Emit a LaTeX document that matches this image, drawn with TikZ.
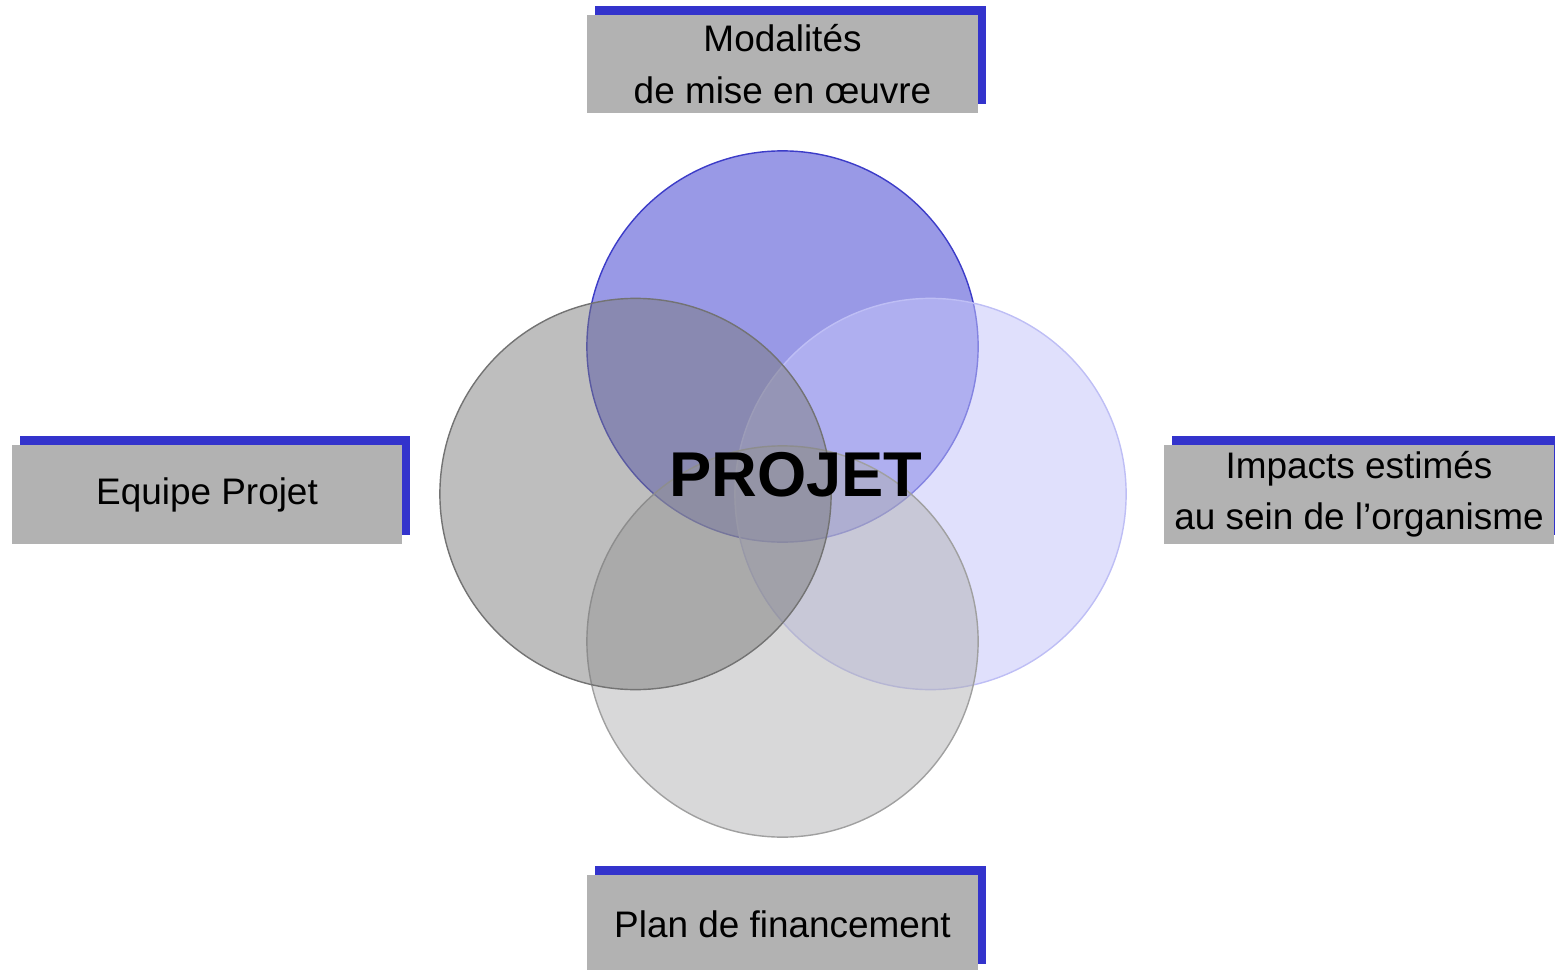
\documentclass[tikz,border=0pt]{standalone}
\usepackage{fontspec}
\setmainfont{Liberation Sans}
\usetikzlibrary{shadows}
\definecolor{boxgray}{RGB}{178,178,178}
\definecolor{shadowblue}{RGB}{51,51,204}
\definecolor{modfill}{RGB}{153,153,230}
\definecolor{impfill}{RGB}{196,196,249}
\definecolor{planfill}{RGB}{174,174,176}
\definecolor{eqfill}{RGB}{122,122,122}
\tikzset{
  pole/.style={fill=boxgray, minimum width=3.9cm, minimum height=0.98cm,
    inner sep=0pt, align=center, font=\fontsize{10.5pt}{14.6pt}\selectfont,
    general shadow={fill=shadowblue, shadow xshift=0.08cm, shadow yshift=0.09cm}},
  rond/.style={circle, minimum size=3.91cm, inner sep=0pt, line width=0.4pt}
}
\begin{document}
\begin{tikzpicture}[x=0.01cm, y=-0.01cm]
      \useasboundingbox (0,0) rectangle (1555,970);
      \node (c1) [rond, fill=modfill, draw={rgb,255:red,60;green,60;blue,200}] at (782.5,346.5) {};
      \node (c2) [rond, fill=impfill, fill opacity=0.53, draw={rgb,255:red,190;green,190;blue,245}] at (930.5,494) {};
      \node (c3) [rond, fill=planfill, fill opacity=0.48, draw={rgb,255:red,160;green,160;blue,160}] at (782.5,641.5) {};
      \node (c4) [rond, fill=eqfill, fill opacity=0.49, draw={rgb,255:red,115;green,115;blue,115}] at (635.5,494) {};
      \node (projet) at (796,475) {\fontsize{18pt}{20pt}\selectfont\bfseries PROJET};
      \node (mod) [pole] at (782.5,64) {Modalités\\de mise en œuvre};
      \node (eq) [pole] at (207,494.5) {Equipe Projet};
      \node (imp) [pole] at (1359,494.5) {Impacts estimés\\au sein de l’organisme};
      \node (plan) [pole] at (782.5,924) {Plan de financement};
    \end{tikzpicture}
\end{document}
